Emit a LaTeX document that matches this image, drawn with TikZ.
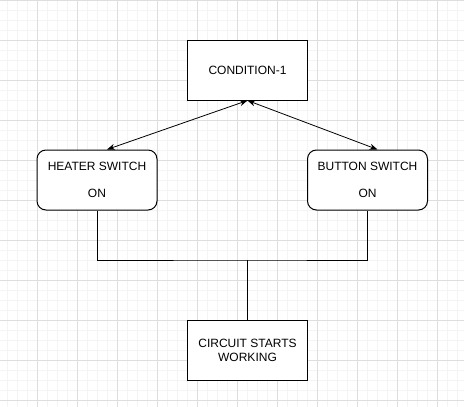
\documentclass[tikz,border=0pt]{standalone}
\usepackage{fontspec}
\setmainfont{Liberation Sans}
\usetikzlibrary{arrows.meta}
\definecolor{gridminor}{RGB}{244,244,244}
\definecolor{gridmajor}{RGB}{222,222,222}

\begin{document}
\begin{tikzpicture}
  [
   x=1pt,y=-1pt, % 以像素为单位, y 轴向下
   box/.style={draw,line width=1pt,fill=white,minimum width=120pt,minimum height=60pt,
               inner sep=0pt,align=center,font=\fontsize{12}{14}\selectfont},
   roundbox/.style={box,rounded corners=9pt},
   wire/.style={line width=1pt},
   link/.style={line width=0.8pt,{Stealth[length=8pt,width=6pt]}-{Stealth[length=8pt,width=6pt]}}
  ]
  \useasboundingbox (0,0) rectangle (464,407);
  \fill[white] (0,0) rectangle (464,407);
  % 背景网格: 细线每 10, 粗线每 40
  \foreach \x in {7,17,...,457}
    \draw[gridminor,line width=1pt] (\x,0) -- (\x,407);
  \foreach \y in {10,20,...,400}
    \draw[gridminor,line width=1pt] (0,\y) -- (464,\y);
  \foreach \x in {37,77,...,437}
    \draw[gridmajor,line width=1pt] (\x,0) -- (\x,407);
  \foreach \y in {0,40,...,400}
    \draw[gridmajor,line width=1pt] (0,\y) -- (464,\y);

  % 方框
  \node[box] (cond) at (247.5,70) {CONDITION-1};
  \node[roundbox] (heater) at (97,180) {HEATER SWITCH\\[13.5pt]ON};
  \node[roundbox] (button) at (367.5,180) {BUTTON SWITCH\\[13.5pt]ON};
  \node[box] (circuit) at (247.5,350.5) {CIRCUIT STARTS\\WORKING};

  % 连线
  \coordinate (jn) at (247.5,260);
  \draw[wire] (heater.south) |- (jn) -| (button.south);
  \draw[wire] (jn) -- (circuit.north);
  \draw[link] ([xshift=10pt]heater.north) -- (cond.south);
  \draw[link] (cond.south) -- ([xshift=10pt]button.north);
\end{tikzpicture}
\end{document}
